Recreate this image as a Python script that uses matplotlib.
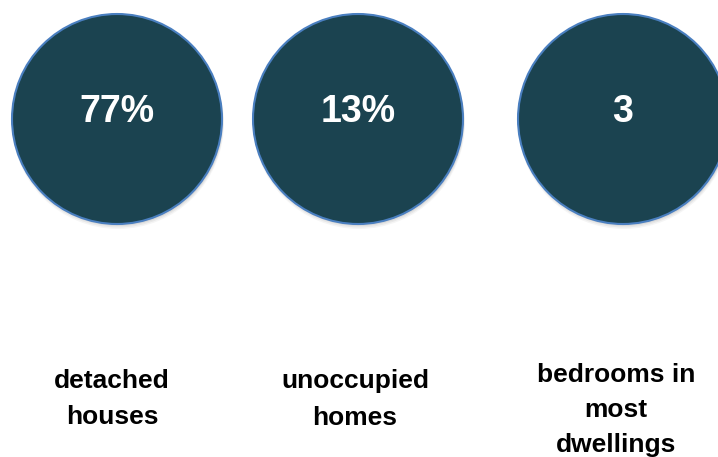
import matplotlib.pyplot as plt
from matplotlib.patches import Circle

stat_values = ["77%", "13%", "3"]
stat_labels = ["detached\nhouses", "unoccupied\nhomes", "bedrooms in\nmost\ndwellings"]

plt.rcParams["font.family"] = ["Liberation Sans", "DejaVu Sans"]

fig = plt.figure(figsize=(7.18, 4.57), dpi=100)
ax = fig.add_axes([0, 0, 1, 1])
ax.set_xlim(0, 718)
ax.set_ylim(457, 0)
ax.set_aspect("equal")
ax.axis("off")

# bubble layout in pixel units
centers_x = [117, 358, 623]
center_y = 119
radius = 105
value_base = 122.5
label_x = [112, 355, 616]
label_base = [388, 388, 382]
line_step = [36, 37, 35]

for i, (val, lab) in enumerate(zip(stat_values, stat_labels)):
    cx = centers_x[i]
    # soft drop shadow under each bubble
    for k, a in enumerate([0.04, 0.05, 0.06, 0.07]):
        ax.add_patch(Circle((cx + 1, center_y + 4 - k), radius + 1 - k * 0.5,
                            facecolor="black", edgecolor="none", alpha=a))
    ax.add_patch(Circle((cx, center_y), radius, facecolor="#1b4350",
                        edgecolor="#4a7fc0", linewidth=1.5))
    ax.text(cx, value_base, val, color="white", fontsize=27, fontweight="bold",
            ha="center", va="baseline")
    for j, line in enumerate(lab.split("\n")):
        ax.text(label_x[i], label_base[i] + j * line_step[i], line, color="black",
                fontsize=19, fontweight="bold", ha="center", va="baseline")

fig.savefig("out.png", dpi=100)
